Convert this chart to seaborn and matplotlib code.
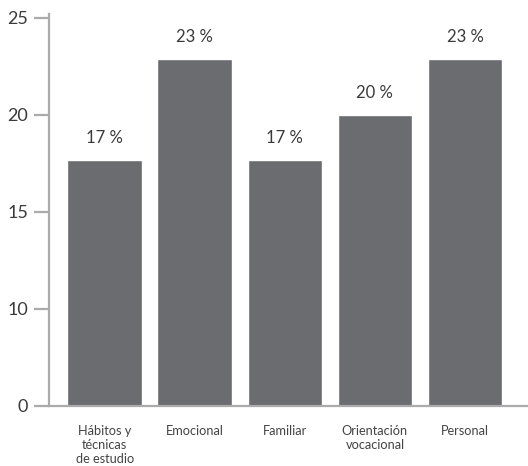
import matplotlib
matplotlib.use("Agg")
import matplotlib.pyplot as plt
import seaborn as sns
import pandas as pd

sns.set_theme(style="white")
plt.rcParams['font.family'] = ['Lato', 'DejaVu Sans']

# data
categories = ['Hábitos y\ntécnicas\nde estudio', 'Emocional', 'Familiar',
              'Orientación\nvocacional', 'Personal']
values = [17.7, 22.9, 17.7, 20.0, 22.9]
bar_labels = ['17 %', '23 %', '17 %', '20 %', '23 %']
ytick_vals = [5, 10, 15, 20, 25]
ytick_text = ['0', '10', '15', '20', '25']

df = pd.DataFrame({'cat': categories, 'val': values})

fig = plt.figure(figsize=(5.28, 4.66), dpi=100)
ax = fig.add_axes([0.0928, 0.1288, 0.9072, 0.8412])

sns.barplot(x='cat', y='val', data=df, color='#6b6c70', saturation=1,
            width=0.83, ax=ax)
ax.bar_label(ax.containers[0], labels=bar_labels, padding=10,
             fontsize=12, color='#3a3a3a')

ax.set_ylim(5, 25.2)
ax.set_xlim(-0.62, 4.7)
ax.set_yticks(ytick_vals)
ax.set_yticklabels(ytick_text, fontsize=13, color='#3a3a3a')
ax.set_xlabel('')
ax.set_ylabel('')

for lab in ax.get_xticklabels():
    lab.set_fontsize(9.2)
    lab.set_color('#444444')
    lab.set_linespacing(1.2)
    lab.set_verticalalignment('top')

sns.despine(ax=ax, top=True, right=True)
for s in ['left', 'bottom']:
    ax.spines[s].set_color('#ababab')
    ax.spines[s].set_linewidth(1.6)

ax.tick_params(axis='y', length=11, width=1.6, color='#ababab', pad=4,
               direction='out', left=True)
ax.tick_params(axis='x', length=0, pad=14)
ax.grid(False)

fig.savefig('out.png', dpi=100)
